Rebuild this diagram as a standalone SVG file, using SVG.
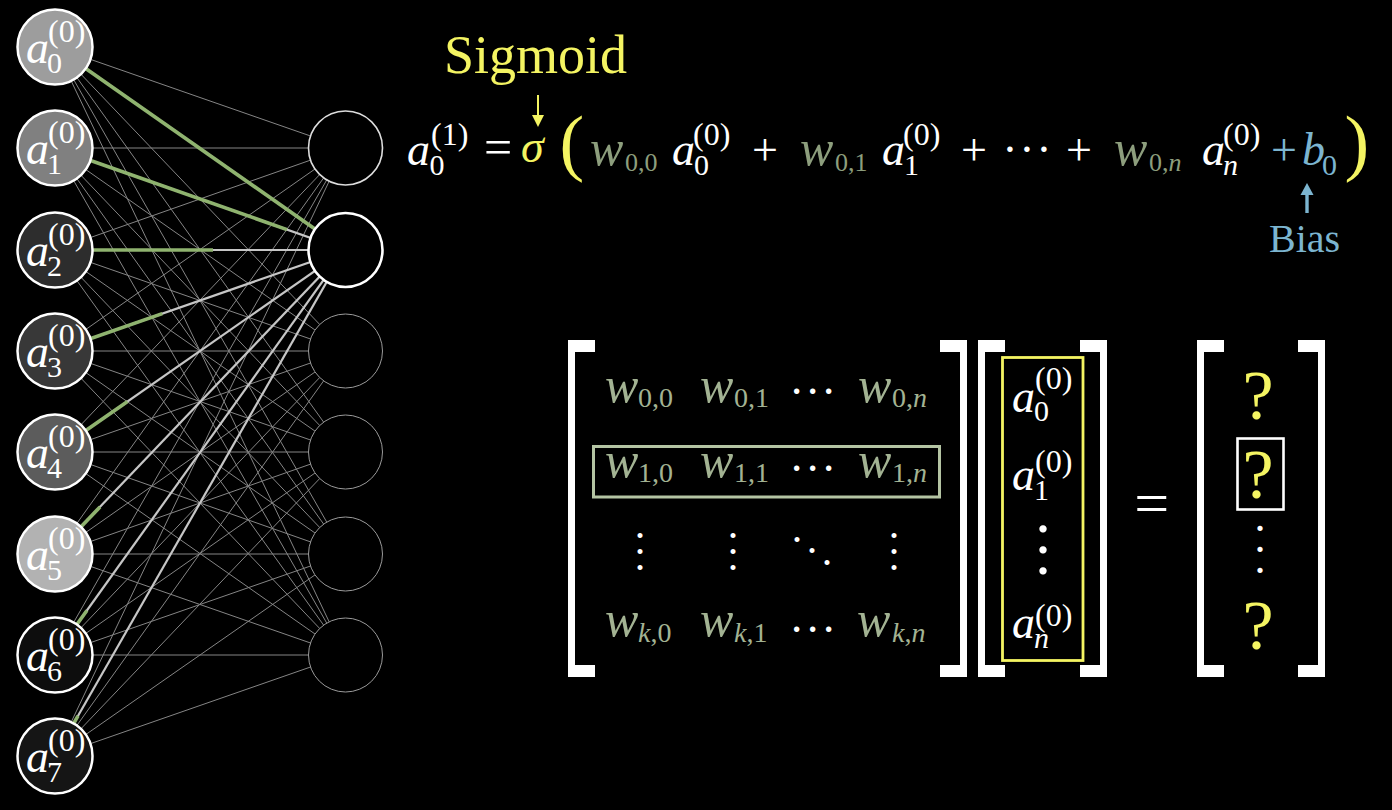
<svg xmlns="http://www.w3.org/2000/svg" width="1392" height="810" viewBox="0 0 1392 810">
<defs>
<polygon id="tick-left" points="0,0 27,0 27,12 7,12 7,325 27,325 27,337 0,337"/>
</defs>
<rect x="0" y="0" width="1392" height="810" fill="#000000"/>
<g id="connectors">
<g stroke="#858585" stroke-width="1">
<line x1="55" y1="47" x2="345" y2="148"/><line x1="55" y1="47" x2="345" y2="351"/><line x1="55" y1="47" x2="345" y2="452"/><line x1="55" y1="47" x2="345" y2="554"/><line x1="55" y1="47" x2="345" y2="655"/>
<line x1="55" y1="148" x2="345" y2="148"/><line x1="55" y1="148" x2="345" y2="351"/><line x1="55" y1="148" x2="345" y2="452"/><line x1="55" y1="148" x2="345" y2="554"/><line x1="55" y1="148" x2="345" y2="655"/>
<line x1="55" y1="250" x2="345" y2="148"/><line x1="55" y1="250" x2="345" y2="351"/><line x1="55" y1="250" x2="345" y2="452"/><line x1="55" y1="250" x2="345" y2="554"/><line x1="55" y1="250" x2="345" y2="655"/>
<line x1="55" y1="351" x2="345" y2="148"/><line x1="55" y1="351" x2="345" y2="351"/><line x1="55" y1="351" x2="345" y2="452"/><line x1="55" y1="351" x2="345" y2="554"/><line x1="55" y1="351" x2="345" y2="655"/>
<line x1="55" y1="452" x2="345" y2="148"/><line x1="55" y1="452" x2="345" y2="351"/><line x1="55" y1="452" x2="345" y2="452"/><line x1="55" y1="452" x2="345" y2="554"/><line x1="55" y1="452" x2="345" y2="655"/>
<line x1="55" y1="554" x2="345" y2="148"/><line x1="55" y1="554" x2="345" y2="351"/><line x1="55" y1="554" x2="345" y2="452"/><line x1="55" y1="554" x2="345" y2="554"/><line x1="55" y1="554" x2="345" y2="655"/>
<line x1="55" y1="655" x2="345" y2="148"/><line x1="55" y1="655" x2="345" y2="351"/><line x1="55" y1="655" x2="345" y2="452"/><line x1="55" y1="655" x2="345" y2="554"/><line x1="55" y1="655" x2="345" y2="655"/>
<line x1="55" y1="756" x2="345" y2="148"/><line x1="55" y1="756" x2="345" y2="351"/><line x1="55" y1="756" x2="345" y2="452"/><line x1="55" y1="756" x2="345" y2="554"/><line x1="55" y1="756" x2="345" y2="655"/>
</g>
<g stroke="#c6c6c6" stroke-width="2.2">
<line x1="55" y1="47" x2="345" y2="250"/>
<line x1="55" y1="148" x2="345" y2="250"/>
<line x1="55" y1="250" x2="345" y2="250"/>
<line x1="55" y1="351" x2="345" y2="250"/>
<line x1="55" y1="452" x2="345" y2="250"/>
<line x1="55" y1="554" x2="345" y2="250"/>
<line x1="55" y1="655" x2="345" y2="250"/>
<line x1="55" y1="756" x2="345" y2="250"/>
</g>
<g stroke="#8fb36f" stroke-width="3.6">
<line x1="55" y1="47" x2="316" y2="229.7"/>
<line x1="55" y1="148" x2="287" y2="229.6"/>
<line x1="55" y1="250" x2="213" y2="250"/>
<line x1="55" y1="351" x2="162.3" y2="313.6"/>
<line x1="55" y1="452" x2="127.5" y2="401.5"/>
<line x1="55" y1="554" x2="100" y2="506.9"/>
<line x1="55" y1="655" x2="86.9" y2="610.5"/>
<line x1="55" y1="756" x2="78" y2="715.8"/>
</g>
</g>
<g id="in0"><circle cx="55" cy="47" r="37.5" fill="#9d9d9d" stroke="#ffffff" stroke-width="2.5"/><text font-family="'Liberation Serif', serif" font-style="italic" font-size="46" fill="#ffffff" x="26" y="63">a</text><text font-family="'Liberation Serif', serif" font-size="30" fill="#ffffff" x="47" y="73">0</text><text font-family="'Liberation Serif', serif" font-size="32" fill="#ffffff" x="48" y="42">(0)</text></g>
<g id="in1"><circle cx="55" cy="148" r="37.5" fill="#808080" stroke="#ffffff" stroke-width="2.5"/><text font-family="'Liberation Serif', serif" font-style="italic" font-size="46" fill="#ffffff" x="26" y="164">a</text><text font-family="'Liberation Serif', serif" font-size="30" fill="#ffffff" x="47" y="174">1</text><text font-family="'Liberation Serif', serif" font-size="32" fill="#ffffff" x="48" y="143">(0)</text></g>
<g id="in2"><circle cx="55" cy="250" r="37.5" fill="#2d2d2d" stroke="#ffffff" stroke-width="2.5"/><text font-family="'Liberation Serif', serif" font-style="italic" font-size="46" fill="#ffffff" x="26" y="266">a</text><text font-family="'Liberation Serif', serif" font-size="30" fill="#ffffff" x="47" y="276">2</text><text font-family="'Liberation Serif', serif" font-size="32" fill="#ffffff" x="48" y="245">(0)</text></g>
<g id="in3"><circle cx="55" cy="351" r="37.5" fill="#383838" stroke="#ffffff" stroke-width="2.5"/><text font-family="'Liberation Serif', serif" font-style="italic" font-size="46" fill="#ffffff" x="26" y="367">a</text><text font-family="'Liberation Serif', serif" font-size="30" fill="#ffffff" x="47" y="377">3</text><text font-family="'Liberation Serif', serif" font-size="32" fill="#ffffff" x="48" y="346">(0)</text></g>
<g id="in4"><circle cx="55" cy="452" r="37.5" fill="#5c5c5c" stroke="#ffffff" stroke-width="2.5"/><text font-family="'Liberation Serif', serif" font-style="italic" font-size="46" fill="#ffffff" x="26" y="468">a</text><text font-family="'Liberation Serif', serif" font-size="30" fill="#ffffff" x="47" y="478">4</text><text font-family="'Liberation Serif', serif" font-size="32" fill="#ffffff" x="48" y="447">(0)</text></g>
<g id="in5"><circle cx="55" cy="554" r="37.5" fill="#b2b2b2" stroke="#ffffff" stroke-width="2.5"/><text font-family="'Liberation Serif', serif" font-style="italic" font-size="46" fill="#ffffff" x="26" y="570">a</text><text font-family="'Liberation Serif', serif" font-size="30" fill="#ffffff" x="47" y="580">5</text><text font-family="'Liberation Serif', serif" font-size="32" fill="#ffffff" x="48" y="549">(0)</text></g>
<g id="in6"><circle cx="55" cy="655" r="37.5" fill="#0d0d0d" stroke="#ffffff" stroke-width="2.5"/><text font-family="'Liberation Serif', serif" font-style="italic" font-size="46" fill="#ffffff" x="26" y="671">a</text><text font-family="'Liberation Serif', serif" font-size="30" fill="#ffffff" x="47" y="681">6</text><text font-family="'Liberation Serif', serif" font-size="32" fill="#ffffff" x="48" y="650">(0)</text></g>
<g id="in7"><circle cx="55" cy="756" r="37.5" fill="#151515" stroke="#ffffff" stroke-width="2.5"/><text font-family="'Liberation Serif', serif" font-style="italic" font-size="46" fill="#ffffff" x="26" y="772">a</text><text font-family="'Liberation Serif', serif" font-size="30" fill="#ffffff" x="47" y="782">7</text><text font-family="'Liberation Serif', serif" font-size="32" fill="#ffffff" x="48" y="751">(0)</text></g>
<g id="out0"><circle cx="345.5" cy="148" r="37" fill="#000000" stroke="#dddddd" stroke-width="1.6"/></g>
<g id="out1"><circle cx="345.5" cy="250" r="37" fill="#000000" stroke="#ffffff" stroke-width="2.6"/></g>
<g id="out2"><circle cx="345.5" cy="351" r="37" fill="#000000" stroke="#9a9a9a" stroke-width="1"/></g>
<g id="out3"><circle cx="345.5" cy="452" r="37" fill="#000000" stroke="#9a9a9a" stroke-width="1"/></g>
<g id="out4"><circle cx="345.5" cy="554" r="37" fill="#000000" stroke="#9a9a9a" stroke-width="1"/></g>
<g id="out5"><circle cx="345.5" cy="655" r="37" fill="#000000" stroke="#9a9a9a" stroke-width="1"/></g>
<g id="sigmoid-label">
<text font-family="'Liberation Serif', serif" font-size="54" fill="#f4f462" x="444" y="72.5">Sigmoid</text>
<line x1="538" y1="95" x2="538" y2="117" stroke="#f4f462" stroke-width="2"/>
<polygon points="532,115 544,115 538,127" fill="#f4f462"/>
</g>
<g id="equation">
<text font-family="'Liberation Serif', serif" font-style="italic" font-size="46" fill="#ffffff" x="407" y="165">a</text><text font-family="'Liberation Serif', serif" font-size="30" fill="#ffffff" x="429.5" y="175">0</text><text font-family="'Liberation Serif', serif" font-size="32" fill="#ffffff" x="431" y="145">(1)</text>
<text font-family="'Liberation Serif', serif" font-size="50" fill="#ffffff" x="484" y="164">=</text>
<text font-family="'Liberation Serif', serif" font-style="italic" font-size="46" fill="#f4f462" x="521" y="162">σ</text>
<text font-family="'Liberation Serif', serif" font-size="74" fill="#f4f462" x="559.4" y="167">(</text>
<text font-family="'Liberation Serif', serif" font-style="italic" font-size="50" fill="#8d9e7d" x="590" y="165">w</text><text font-family="'Liberation Serif', serif" font-size="26" fill="#8d9e7d" x="625" y="171">0,0</text>
<text font-family="'Liberation Serif', serif" font-style="italic" font-size="46" fill="#ffffff" x="672" y="165">a</text><text font-family="'Liberation Serif', serif" font-size="30" fill="#ffffff" x="694" y="175">0</text><text font-family="'Liberation Serif', serif" font-size="32" fill="#ffffff" x="693" y="145">(0)</text>
<text font-family="'Liberation Serif', serif" font-size="46" fill="#ffffff" x="752" y="165">+</text>
<text font-family="'Liberation Serif', serif" font-style="italic" font-size="50" fill="#8d9e7d" x="800" y="165">w</text><text font-family="'Liberation Serif', serif" font-size="26" fill="#8d9e7d" x="835" y="171">0,1</text>
<text font-family="'Liberation Serif', serif" font-style="italic" font-size="46" fill="#ffffff" x="882" y="165">a</text><text font-family="'Liberation Serif', serif" font-size="30" fill="#ffffff" x="904" y="175">1</text><text font-family="'Liberation Serif', serif" font-size="32" fill="#ffffff" x="903" y="145">(0)</text>
<text font-family="'Liberation Serif', serif" font-size="46" fill="#ffffff" x="961" y="165">+</text>
<text font-family="'Liberation Serif', serif" font-size="46" fill="#ffffff" x="1002.2 1019.2 1036.2" y="164.7">···</text>
<text font-family="'Liberation Serif', serif" font-size="46" fill="#ffffff" x="1066" y="165">+</text>
<text font-family="'Liberation Serif', serif" font-style="italic" font-size="50" fill="#8d9e7d" x="1114" y="165">w</text><text font-family="'Liberation Serif', serif" font-size="26" fill="#8d9e7d" x="1149" y="171">0,<tspan font-style="italic">n</tspan></text>
<text font-family="'Liberation Serif', serif" font-style="italic" font-size="46" fill="#ffffff" x="1202" y="165">a</text><text font-family="'Liberation Serif', serif" font-style="italic" font-size="30" fill="#ffffff" x="1223" y="175">n</text><text font-family="'Liberation Serif', serif" font-size="32" fill="#ffffff" x="1223" y="145">(0)</text>
<text font-family="'Liberation Serif', serif" font-size="46" fill="#7cb5d0" x="1271" y="165">+</text>
<text font-family="'Liberation Serif', serif" font-style="italic" font-size="46" fill="#7cb5d0" x="1302" y="165">b</text><text font-family="'Liberation Serif', serif" font-size="30" fill="#7cb5d0" x="1322" y="175">0</text>
<text font-family="'Liberation Serif', serif" font-size="74" fill="#f4f462" x="1344.5" y="167">)</text>
</g>
<g id="bias-label">
<line x1="1307" y1="213" x2="1307" y2="192" stroke="#7cb5d0" stroke-width="3.4"/>
<polygon points="1300.5,195 1313.5,195 1307,183" fill="#7cb5d0"/>
<text font-family="'Liberation Serif', serif" font-size="40" fill="#7cb5d0" x="1269" y="252">Bias</text>
</g>
<g id="matrix">
<use href="#tick-left" x="568" y="340" fill="#ffffff"/>
<use href="#tick-left" transform="translate(967,340) scale(-1,1)" fill="#ffffff"/>
<text font-family="'Liberation Serif', serif" font-style="italic" font-size="50" fill="#a3b393" x="605" y="402">w</text><text font-family="'Liberation Serif', serif" font-size="28" fill="#a3b393" x="638" y="407">0,0</text>
<text font-family="'Liberation Serif', serif" font-style="italic" font-size="50" fill="#a3b393" x="700" y="402">w</text><text font-family="'Liberation Serif', serif" font-size="28" fill="#a3b393" x="734" y="407">0,1</text>
<text font-family="'Liberation Serif', serif" font-size="46" fill="#ffffff" x="789 805 821" y="406.7">···</text>
<text font-family="'Liberation Serif', serif" font-style="italic" font-size="50" fill="#a3b393" x="858" y="402">w</text><text font-family="'Liberation Serif', serif" font-size="28" fill="#a3b393" x="892" y="407">0,<tspan font-style="italic">n</tspan></text>
<rect x="593.5" y="446.5" width="346" height="50.5" fill="none" stroke="#b4c4a3" stroke-width="3"/>
<text font-family="'Liberation Serif', serif" font-style="italic" font-size="50" fill="#a3b393" x="605" y="477">w</text><text font-family="'Liberation Serif', serif" font-size="28" fill="#a3b393" x="638" y="482">1,0</text>
<text font-family="'Liberation Serif', serif" font-style="italic" font-size="50" fill="#a3b393" x="700" y="477">w</text><text font-family="'Liberation Serif', serif" font-size="28" fill="#a3b393" x="734" y="482">1,1</text>
<text font-family="'Liberation Serif', serif" font-size="46" fill="#ffffff" x="789 805 821" y="483.7">···</text>
<text font-family="'Liberation Serif', serif" font-style="italic" font-size="50" fill="#a3b393" x="858" y="477">w</text><text font-family="'Liberation Serif', serif" font-size="28" fill="#a3b393" x="892" y="482">1,<tspan font-style="italic">n</tspan></text>
<text font-family="'Liberation Serif', serif" font-size="42" fill="#ffffff" x="634.7 634.7 634.7" y="537.9 553.9 569.9">...</text>
<text font-family="'Liberation Serif', serif" font-size="42" fill="#ffffff" x="727.7 727.7 727.7" y="537.9 553.9 569.9">...</text>
<text font-family="'Liberation Serif', serif" font-size="42" fill="#ffffff" x="791.7 806.7 821.7" y="541.9 552.9 564.9">...</text>
<text font-family="'Liberation Serif', serif" font-size="42" fill="#ffffff" x="888.7 888.7 888.7" y="537.9 553.9 569.9">...</text>
<text font-family="'Liberation Serif', serif" font-style="italic" font-size="50" fill="#a3b393" x="605" y="636">w</text><text font-family="'Liberation Serif', serif" font-size="28" fill="#a3b393" x="638" y="642"><tspan font-style="italic">k</tspan>,0</text>
<text font-family="'Liberation Serif', serif" font-style="italic" font-size="50" fill="#a3b393" x="700" y="636">w</text><text font-family="'Liberation Serif', serif" font-size="28" fill="#a3b393" x="734" y="642"><tspan font-style="italic">k</tspan>,1</text>
<text font-family="'Liberation Serif', serif" font-size="46" fill="#ffffff" x="789 805 821" y="644.7">···</text>
<text font-family="'Liberation Serif', serif" font-style="italic" font-size="50" fill="#a3b393" x="857" y="636">w</text><text font-family="'Liberation Serif', serif" font-size="28" fill="#a3b393" x="892" y="642"><tspan font-style="italic">k</tspan>,<tspan font-style="italic">n</tspan></text>
</g>
<g id="vector">
<use href="#tick-left" x="978" y="340" fill="#ffffff"/>
<use href="#tick-left" transform="translate(1107,340) scale(-1,1)" fill="#ffffff"/>
<rect x="1002.5" y="357.5" width="80.5" height="303" fill="none" stroke="#f4f462" stroke-width="2.8"/>
<text font-family="'Liberation Serif', serif" font-style="italic" font-size="46" fill="#ffffff" x="1012" y="412">a</text><text font-family="'Liberation Serif', serif" font-size="30" fill="#ffffff" x="1034" y="421">0</text><text font-family="'Liberation Serif', serif" font-size="32" fill="#ffffff" x="1035" y="389">(0)</text>
<text font-family="'Liberation Serif', serif" font-style="italic" font-size="46" fill="#ffffff" x="1012" y="490">a</text><text font-family="'Liberation Serif', serif" font-size="30" fill="#ffffff" x="1034" y="500">1</text><text font-family="'Liberation Serif', serif" font-size="32" fill="#ffffff" x="1035" y="471.5">(0)</text>
<text font-family="'Liberation Serif', serif" font-size="62" fill="#ffffff" x="1035.2 1035.2 1035.2" y="531.8 552.8 573.8">...</text>
<text font-family="'Liberation Serif', serif" font-style="italic" font-size="46" fill="#ffffff" x="1012" y="638">a</text><text font-family="'Liberation Serif', serif" font-style="italic" font-size="30" fill="#ffffff" x="1034" y="648">n</text><text font-family="'Liberation Serif', serif" font-size="32" fill="#ffffff" x="1035" y="626">(0)</text>
</g>
<g id="equals">
<text font-family="'Liberation Serif', serif" font-size="62" fill="#ffffff" x="1134.3" y="523.7">=</text>
</g>
<g id="result">
<use href="#tick-left" x="1197" y="340" fill="#ffffff"/>
<use href="#tick-left" transform="translate(1325,340) scale(-1,1)" fill="#ffffff"/>
<text font-family="'Liberation Serif', serif" font-size="70" fill="#f4f462" x="1242.5" y="418.5">?</text>
<rect x="1237.5" y="438.5" width="46" height="71" fill="none" stroke="#ffffff" stroke-width="2.6"/>
<text font-family="'Liberation Serif', serif" font-size="70" fill="#f4f462" x="1242.5" y="497.5">?</text>
<text font-family="'Liberation Serif', serif" font-size="44" fill="#ffffff" x="1254.5 1254.5 1254.5" y="531 552 573">...</text>
<text font-family="'Liberation Serif', serif" font-size="70" fill="#f4f462" x="1242.5" y="648.5">?</text>
</g>
</svg>
